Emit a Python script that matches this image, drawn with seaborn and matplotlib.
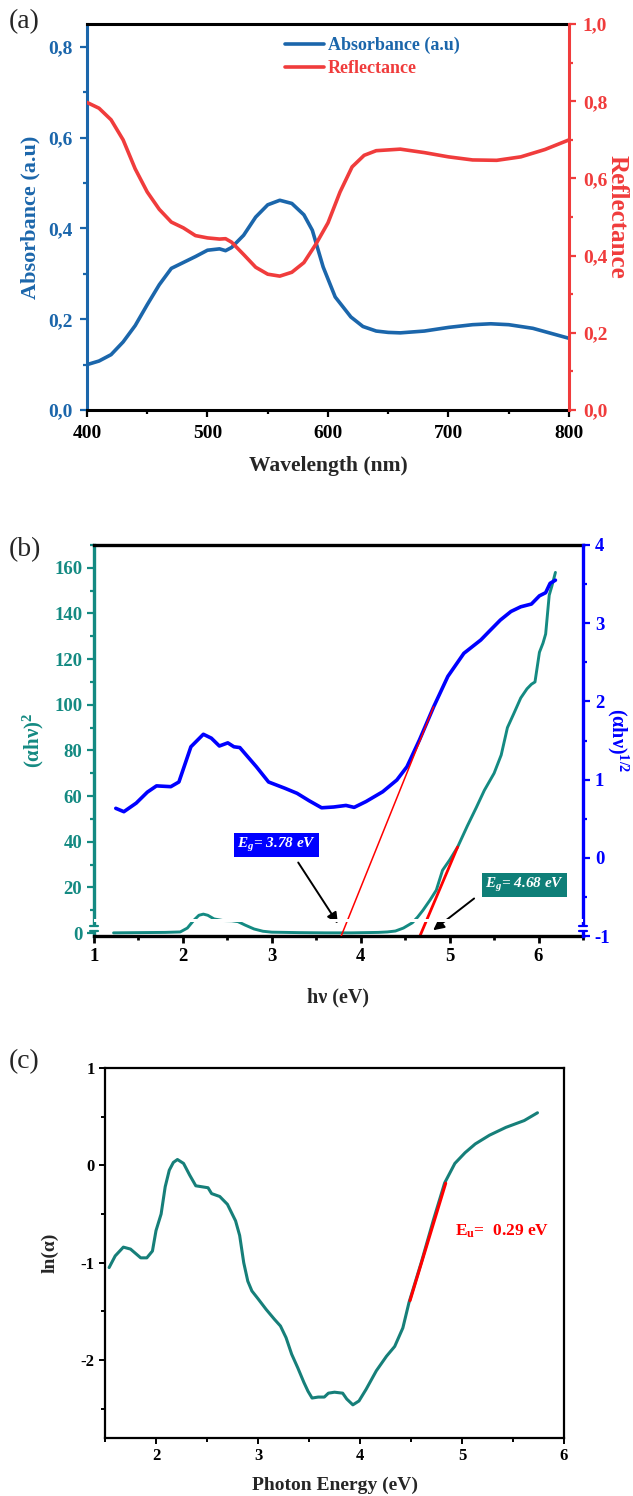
import numpy as np
import pandas as pd
import matplotlib
matplotlib.use("Agg")
import matplotlib.pyplot as plt
from matplotlib.ticker import MultipleLocator, FuncFormatter
from matplotlib.patches import Rectangle
from matplotlib.lines import Line2D
import seaborn as sns

# ---------------- data ----------------
# (a) UV-Vis spectra
wavelength = [400, 410, 420, 430, 440, 450, 460, 470, 480, 490, 500, 510, 515, 520, 530,
              540, 550, 560, 570, 580, 587, 596, 606, 619, 629, 640, 650, 660, 680, 700,
              720, 735, 750, 770, 800]
absorbance = [0.100, 0.108, 0.122, 0.150, 0.186, 0.232, 0.276, 0.312, 0.325, 0.338, 0.352,
              0.355, 0.351, 0.358, 0.385, 0.425, 0.452, 0.462, 0.455, 0.430, 0.396, 0.315,
              0.249, 0.205, 0.184, 0.174, 0.171, 0.170, 0.174, 0.182, 0.188, 0.190, 0.188,
              0.180, 0.158]
wavelength_r = [400, 410, 420, 430, 440, 450, 460, 470, 480, 490, 500, 510, 515, 520, 530,
                540, 550, 560, 570, 580, 590, 600, 610, 620, 630, 640, 660, 680, 700, 720,
                740, 760, 780, 800]
reflectance = [0.797, 0.782, 0.752, 0.700, 0.625, 0.565, 0.520, 0.487, 0.472, 0.452, 0.446,
               0.443, 0.444, 0.435, 0.403, 0.370, 0.352, 0.347, 0.357, 0.382, 0.430, 0.485,
               0.565, 0.630, 0.660, 0.672, 0.676, 0.667, 0.656, 0.648, 0.647, 0.656, 0.675,
               0.700]

# (b) Tauc plots
energy_dir = [1.22, 1.5, 1.8, 1.97, 2.05, 2.12, 2.18, 2.23, 2.28, 2.35, 2.45, 2.55, 2.62, 2.7,
              2.8, 2.9, 3.0, 3.3, 3.6, 3.9, 4.2, 4.3, 4.39, 4.48, 4.58, 4.64, 4.70, 4.78, 4.85,
              4.92, 5.0, 5.09, 5.2, 5.3, 5.39, 5.5, 5.58, 5.65, 5.72, 5.8, 5.87, 5.92, 5.96,
              6.01, 6.05, 6.08, 6.12, 6.15, 6.19]
ahv_sq = [0.1, 0.2, 0.3, 0.5, 2.2, 5.5, 7.8, 8.3, 7.8, 6.2, 5.5, 5.4, 5.0, 3.5, 1.8, 0.8, 0.4,
          0.2, 0.1, 0.1, 0.3, 0.5, 0.9, 2.2, 4.5, 7.0, 10.0, 14.5, 18.8, 27.5, 32.0, 37.7, 47.0,
          55.0, 62.5, 70.0, 78.0, 90.0, 96.0, 103.0, 107.0, 109.0, 110.0, 123.0, 127.0, 131.0,
          148.0, 152.0, 158.0]
energy_ind = [1.245, 1.336, 1.475, 1.60, 1.703, 1.864, 1.955, 2.09, 2.23, 2.32, 2.41, 2.505,
              2.574, 2.64, 2.826, 2.963, 3.146, 3.284, 3.42, 3.56, 3.696, 3.834, 3.926, 4.06,
              4.247, 4.406, 4.52, 4.66, 4.82, 4.98, 5.16, 5.35, 5.44, 5.57, 5.69, 5.80, 5.92,
              6.01, 6.08, 6.13, 6.19]
ahv_half = [0.633, 0.59, 0.70, 0.84, 0.92, 0.91, 0.97, 1.42, 1.58, 1.53, 1.43, 1.47, 1.42,
            1.41, 1.165, 0.97, 0.89, 0.825, 0.73, 0.64, 0.65, 0.67, 0.645, 0.72, 0.845, 0.995,
            1.165, 1.506, 1.93, 2.32, 2.615, 2.785, 2.89, 3.04, 3.15, 3.21, 3.245, 3.35, 3.39,
            3.51, 3.55]
eg_indirect = 3.78
eg_direct = 4.68
fit_ind_end = 4.82
fit_ind_slope = 2.82
fit_dir_end = 5.09
fit_dir_slope = 92.0

# (c) Urbach plot
energy_u = [1.54, 1.60, 1.68, 1.75, 1.85, 1.91, 1.965, 2.0, 2.05, 2.09, 2.13, 2.17, 2.21, 2.27,
            2.33, 2.39, 2.45, 2.51, 2.545, 2.625, 2.70, 2.78, 2.82, 2.86, 2.90, 2.94, 3.0, 3.08,
            3.16, 3.22, 3.275, 3.33, 3.39, 3.45, 3.49, 3.53, 3.59, 3.65, 3.69, 3.75, 3.83, 3.87,
            3.93, 3.99, 4.06, 4.16, 4.26, 4.34, 4.42, 4.48, 4.60, 4.72, 4.83, 4.93, 5.03, 5.13,
            5.27, 5.43, 5.61, 5.74]
ln_alpha = [-1.05, -0.93, -0.84, -0.86, -0.95, -0.95, -0.88, -0.67, -0.50, -0.22, -0.05, 0.03,
            0.06, 0.02, -0.10, -0.21, -0.22, -0.23, -0.29, -0.32, -0.40, -0.57, -0.72, -1.00,
            -1.19, -1.29, -1.37, -1.48, -1.58, -1.65, -1.77, -1.94, -2.08, -2.23, -2.32, -2.39,
            -2.38, -2.38, -2.34, -2.33, -2.34, -2.40, -2.46, -2.42, -2.30, -2.11, -1.96, -1.86,
            -1.67, -1.41, -1.00, -0.56, -0.18, 0.02, 0.13, 0.22, 0.31, 0.39, 0.46, 0.54]
e_urbach = 0.29
urbach_fit_range = [4.49, 4.84]
urbach_fit_anchor = -1.39

# ---------------- style ----------------
sns.set_style("ticks")
plt.rcParams["font.family"] = ["Liberation Serif", "DejaVu Serif"]
plt.rcParams["font.weight"] = "bold"
plt.rcParams["axes.unicode_minus"] = False
plt.rcParams["mathtext.fontset"] = "custom"
plt.rcParams["mathtext.rm"] = "Liberation Serif:bold"
plt.rcParams["mathtext.bf"] = "Liberation Serif:bold"
plt.rcParams["mathtext.it"] = "Liberation Serif:italic:bold"
plt.rcParams["mathtext.bfit"] = "Liberation Serif:italic:bold"

BLUE_A = "#1b66ab"
RED_A = "#f03c3c"
TEAL = "#148a82"
BLUE_B = "#0000ff"
RED = "#ff0000"
TEAL_C = "#167f79"

fig = plt.figure(figsize=(6.33, 14.96), dpi=100)

comma = FuncFormatter(lambda v, p: f"{v:.1f}".replace(".", ","))

# ================= (a) =================
ax = fig.add_axes([0.1374, 0.7259, 0.7615, 0.2580])
axr = ax.twinx()
sns.lineplot(x=wavelength, y=absorbance, ax=ax, color=BLUE_A, lw=2.6,
             estimator=None, label="Absorbance (a.u)")
sns.lineplot(x=wavelength_r, y=reflectance, ax=axr, color=RED_A, lw=2.6,
             estimator=None, label="Reflectance")
ax.set_xlim(400, 800)
ax.set_ylim(0, 0.85)
axr.set_ylim(0, 1.0)
ax.xaxis.set_major_locator(MultipleLocator(100))
ax.xaxis.set_minor_locator(MultipleLocator(50))
ax.yaxis.set_major_locator(MultipleLocator(0.2))
ax.yaxis.set_minor_locator(MultipleLocator(0.1))
axr.yaxis.set_major_locator(MultipleLocator(0.2))
axr.yaxis.set_minor_locator(MultipleLocator(0.1))
ax.yaxis.set_major_formatter(comma)
axr.yaxis.set_major_formatter(comma)

for s in ["top", "bottom"]:
    ax.spines[s].set_color("black")
    ax.spines[s].set_linewidth(2.2)
    axr.spines[s].set_visible(False)
ax.spines["right"].set_visible(False)
ax.spines["left"].set_color(BLUE_A)
ax.spines["left"].set_linewidth(2.2)
axr.spines["left"].set_visible(False)
axr.spines["right"].set_color(RED_A)
axr.spines["right"].set_linewidth(2.2)

ax.tick_params(axis="x", which="both", direction="out", colors="black", width=1.6,
               labelsize=14, top=False, pad=6)
ax.tick_params(axis="x", which="major", length=5)
ax.tick_params(axis="x", which="minor", length=3)
ax.tick_params(axis="y", which="both", colors=BLUE_A, width=1.6, labelsize=14, pad=5)
ax.tick_params(axis="y", which="major", length=5)
ax.tick_params(axis="y", which="minor", length=3)
axr.tick_params(axis="y", which="both", colors=RED_A, width=1.6, labelsize=14, pad=5)
axr.tick_params(axis="y", which="major", length=5)
axr.tick_params(axis="y", which="minor", length=3)

ax.set_xlabel("Wavelength (nm)", fontsize=15.5, fontweight="bold", labelpad=10)
ax.set_ylabel("Absorbance (a.u)", fontsize=16, fontweight="bold", color=BLUE_A, labelpad=6)
axr.set_ylabel("Reflectance", fontsize=18, fontweight="bold", color=RED_A,
               rotation=270, labelpad=15)

for a in (ax, axr):
    if a.get_legend() is not None:
        a.get_legend().remove()
handles = [Line2D([], [], color=BLUE_A, lw=2.6), Line2D([], [], color=RED_A, lw=2.6)]
leg = ax.legend(handles, ["Absorbance (a.u)", "Reflectance"], loc="upper left",
                bbox_to_anchor=(0.395, 0.985), frameon=False, fontsize=13,
                handlelength=2.2, handletextpad=0.2, labelspacing=0.3, borderaxespad=0)
for t, c in zip(leg.get_texts(), [BLUE_A, RED_A]):
    t.set_color(c)
    t.set_fontweight("bold")

# ================= (b) =================
bx = fig.add_axes([0.1485, 0.3743, 0.7725, 0.2614])
bxr = bx.twinx()
sns.lineplot(x=energy_dir, y=ahv_sq, ax=bx, color=TEAL, lw=2.1, estimator=None)
sns.lineplot(x=energy_ind, y=ahv_half, ax=bxr, color=BLUE_B, lw=2.6, estimator=None)

fit_dir_x = [eg_direct - 1.3 / fit_dir_slope, fit_dir_end]
fit_dir_y = [fit_dir_slope * (e - eg_direct) for e in fit_dir_x]
sns.lineplot(x=fit_dir_x, y=fit_dir_y, ax=bx, color=RED, lw=2.0, estimator=None)
fit_ind_x = [eg_indirect, fit_ind_end]
fit_ind_y = [fit_ind_slope * (e - eg_indirect) - 1 for e in fit_ind_x]
sns.lineplot(x=fit_ind_x, y=fit_ind_y, ax=bxr, color=RED, lw=1.1, estimator=None)

bx.set_xlim(1, 6.5)
bx.set_ylim(-1.3, 170)
bxr.set_ylim(-1, 4)
bx.xaxis.set_major_locator(MultipleLocator(1))
bx.xaxis.set_minor_locator(MultipleLocator(0.5))
bx.yaxis.set_major_locator(MultipleLocator(20))
bx.yaxis.set_minor_locator(MultipleLocator(10))
bxr.yaxis.set_major_locator(MultipleLocator(1))
bxr.yaxis.set_minor_locator(MultipleLocator(0.5))

for s in ["top", "bottom"]:
    bx.spines[s].set_color("black")
    bx.spines[s].set_linewidth(2.4)
    bxr.spines[s].set_visible(False)
bx.spines["right"].set_visible(False)
bx.spines["left"].set_color(TEAL)
bx.spines["left"].set_linewidth(2.4)
bxr.spines["left"].set_visible(False)
bxr.spines["right"].set_color(BLUE_B)
bxr.spines["right"].set_linewidth(2.4)

bx.tick_params(axis="x", which="both", colors="black", width=2, labelsize=13.5, top=False)
bx.tick_params(axis="x", which="major", length=5)
bx.tick_params(axis="x", which="minor", length=3)
bx.tick_params(axis="y", which="both", colors=TEAL, width=1.6, labelsize=13.5)
bx.tick_params(axis="y", which="major", length=5)
bx.tick_params(axis="y", which="minor", length=3)
bxr.tick_params(axis="y", which="both", colors=BLUE_B, width=1.6, labelsize=13.5)
bxr.tick_params(axis="y", which="major", length=5)
bxr.tick_params(axis="y", which="minor", length=3)

bx.set_xlabel("hν (eV)", fontsize=14.5, fontweight="bold", labelpad=16)
bx.set_ylabel(r"(αhν)$^{2}$", fontsize=15, fontweight="bold", color=TEAL, labelpad=6)
bxr.set_ylabel(r"(αhν)$^{1/2}$", fontsize=14.5, fontweight="bold", color=BLUE_B,
               rotation=270, labelpad=14)

# band-gap labels and arrows
bxr.annotate("", xy=(3.76, -0.87), xytext=(3.28, -0.03),
             arrowprops=dict(arrowstyle="-|>", color="black", lw=1.4, mutation_scale=16),
             zorder=4)
bxr.text(3.05, 0.16, r"E$_{\mathbfit{g}}$= 3.78 eV", color="white", fontsize=11,
         fontstyle="italic", fontweight="bold", ha="center", va="center", zorder=5,
         bbox=dict(boxstyle="square,pad=0.2", fc=BLUE_B, ec="none"))
bx.annotate("", xy=(4.79, 0.5), xytext=(5.30, 15.9),
            arrowprops=dict(arrowstyle="-|>", color="black", lw=1.4, mutation_scale=16),
            zorder=4)
bx.text(5.84, 21, r"E$_{\mathbfit{g}}$= 4.68 eV", color="white", fontsize=11,
        fontstyle="italic", fontweight="bold", ha="center", va="center", zorder=5,
        bbox=dict(boxstyle="square,pad=0.2", fc="#0f7f78", ec="none"))

# axis break: white band through the plot and gaps in the side spines
bxr.add_patch(Rectangle((0, 0.036), 1, 0.0075, transform=bxr.transAxes, fc="white",
                        ec="none", zorder=20, clip_on=False))
for xpos, col in [(0, TEAL), (1, BLUE_B)]:
    bxr.add_patch(Rectangle((xpos - 0.008, 0.012), 0.016, 0.013, transform=bxr.transAxes,
                            fc="white", ec="none", zorder=21, clip_on=False))
    for yb in (0.012, 0.025):
        bxr.add_line(Line2D([xpos - 0.008, xpos + 0.008], [yb, yb], transform=bxr.transAxes,
                            color=col, lw=1.6, zorder=22, clip_on=False))

# ================= (c) =================
cx = fig.add_axes([0.1659, 0.0388, 0.7251, 0.2473])
sns.lineplot(x=energy_u, y=ln_alpha, ax=cx, color=TEAL_C, lw=2.2, estimator=None)
urbach_c = urbach_fit_anchor - urbach_fit_range[0] / e_urbach
fit_u_y = [e / e_urbach + urbach_c for e in urbach_fit_range]
sns.lineplot(x=urbach_fit_range, y=fit_u_y, ax=cx, color=RED, lw=2.2, estimator=None)
cx.set_xlim(1.5, 6)
cx.set_ylim(-2.8, 1)
cx.xaxis.set_major_locator(MultipleLocator(1))
cx.xaxis.set_minor_locator(MultipleLocator(0.5))
cx.yaxis.set_major_locator(MultipleLocator(1))
cx.yaxis.set_minor_locator(MultipleLocator(0.5))
for s in cx.spines.values():
    s.set_color("black")
    s.set_linewidth(1.6)
cx.tick_params(axis="both", which="both", colors="black", width=1.4, labelsize=12,
               top=False, right=False)
cx.tick_params(axis="both", which="major", length=4)
cx.tick_params(axis="both", which="minor", length=3)
cx.set_xlabel("Photon Energy (eV)", fontsize=14, fontweight="bold", labelpad=9)
cx.set_ylabel("ln(α)", fontsize=14, fontweight="bold", labelpad=16)
cx.text(4.93, -0.68, r"E$_{\mathbf{u}}$=  " + f"{e_urbach:.2f} eV", color=RED, fontsize=12.5,
        fontweight="bold", ha="left", va="center")

# panel letters
for lbl, ypx in [("(a)", 22), ("(b)", 550), ("(c)", 1062)]:
    fig.text(0.014, 1 - ypx / 1496, lbl, fontsize=20, fontweight="normal", va="center",
             ha="left", family=["Liberation Serif"])

fig.savefig("out.png", dpi=100)
